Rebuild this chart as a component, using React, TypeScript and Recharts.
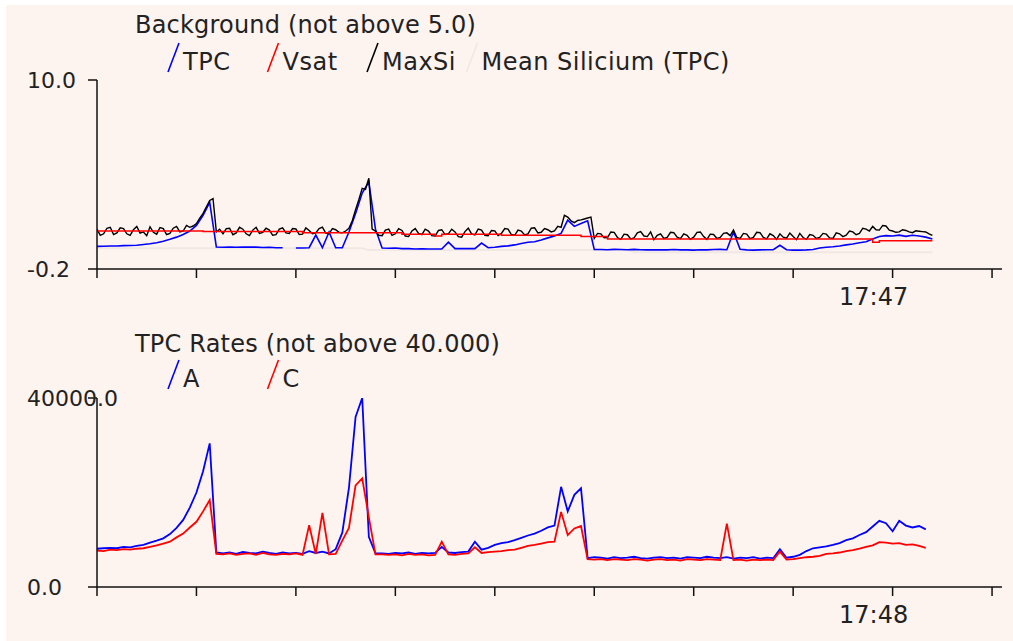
import React from "react";
import { LineChart, Line, XAxis, YAxis } from "recharts";

// ---------- tick labels / axis config ----------
const TIME_TICKS = [0, 15, 30, 45, 60, 75, 90, 105, 120, 135];
const TIME_LABEL_TICK = 120;
const TOP_TIME_LABEL = "17:47";
const BOTTOM_TIME_LABEL = "17:48";
const TOP_Y_TICKS = [-0.2, 10.0];
const BOTTOM_Y_TICKS = [0, 40000];

const TOP_TITLE = "Background (not above 5.0)";
const BOTTOM_TITLE = "TPC Rates (not above 40.000)";
const TOP_LEGEND = ["TPC", "Vsat", "MaxSi", "Mean Silicium (TPC)"];
const BOTTOM_LEGEND = ["A", "C"];

// ---------- top chart series (one sample per second) ----------
const TOP_TPC = [
  1.02, 1.03, 1.04, 1.04, 1.06, 1.07, 1.08, 1.12, 1.16, 1.22, 1.30, 1.40, 1.52, 1.66, 1.85, 2.15, 2.70, 3.40, 0.99,
  0.97, 0.99, 0.97, 0.99, 0.98, 0.98, 0.96, 0.97, 0.95, 0.95, null, 0.93, 0.93, 0.95, 1.63, 0.95, 1.80, 0.95,
  0.95, 1.80, 2.80, 3.90, 4.50, 1.95, 0.93,
  0.92, 0.93, 0.90, 0.90, 0.88, 0.89, 0.88, 0.88, 0.88, 1.25, 0.90, 0.90, 0.90, 0.90, 1.20, 0.95, 0.97,
  1.02, 1.05, 1.10, 1.18, 1.24, 1.27, 1.36, 1.48, 1.58, 1.72,
  2.44, 2.10, 2.25, 2.40,
  0.86, 0.85, 0.84, 0.86, 0.85, 0.84, 0.86, 0.84, 0.83, 0.83, 0.84, 0.83, 0.85, 0.83, 0.83, 0.82, 0.84, 0.83, 0.85, 0.86, 0.84,
  1.80,
  0.86, 0.83, 0.82, 0.83, 0.84, 0.84, 1.08, 0.84, 0.82, 0.82, 0.83, 0.85,
  0.93, 0.97, 1.00, 1.04, 1.10, 1.15, 1.22, 1.27, 1.42, 1.55, 1.60, 1.58, 1.63, 1.56, 1.62, 1.58, 1.52, 1.42,
];

// MaxSi: one sample per half second
const TOP_MAXSI = [
  1.95, 1.62, 1.70, 2.00, 2.05, 1.66, 1.75, 2.02, 1.98, 1.70, 1.62, 1.92, 2.10, 1.74,
  1.80, 1.60, 2.08, 1.78, 1.68, 2.04, 1.98, 1.66, 1.72, 2.00, 2.10, 1.80, 1.85, 2.15, 2.05, 2.12,
  2.25, 2.55, 2.80, 3.15, 3.50, 3.60, 1.80, 1.95,
  1.70, 1.98, 2.00, 1.65, 1.75, 2.05, 1.95, 1.70, 1.60, 1.90,
  2.05, 1.72, 1.78, 2.00, 1.90, 1.62, 1.65, 1.95, 2.02, 1.75,
  1.72, 1.98, 1.96, 1.66, 1.68, 2.02, 1.88, 1.70, 1.75, 1.98,
  2.06, 1.74, 1.70, 1.98, 1.92, 1.78,
  1.75, 1.85, 2.00, 2.40, 3.00, 3.55, 4.15, 4.10, 4.70, 1.95, 1.85, 1.62,
  1.60, 1.90, 1.95, 1.62, 1.70, 1.98, 1.88, 1.58, 1.55, 1.85,
  1.98, 1.72, 1.66, 1.95, 1.85, 1.60, 1.58, 1.88, 1.92, 1.66,
  1.70, 1.95, 1.80, 1.55, 1.52, 1.82, 2.00, 1.70, 1.64, 1.96,
  1.90, 1.62, 1.60, 1.88, 1.86, 1.60,
  1.72, 1.98, 1.95, 1.66, 1.62, 1.90, 1.85, 1.64, 1.70, 2.00,
  2.02, 1.75, 1.78, 1.98, 1.92, 1.80, 1.85, 2.10, 2.05, 2.70,
  2.60, 2.40, 2.30, 2.42, 2.45, 2.50, 2.55, 2.60,
  1.45, 1.72, 1.70, 1.48, 1.50, 1.80, 1.78, 1.50, 1.40, 1.68,
  1.65, 1.42, 1.48, 1.75, 1.82, 1.58, 1.55, 1.80, 1.38, 1.62,
  1.70, 1.45, 1.50, 1.78, 1.76, 1.52, 1.44, 1.70, 1.62, 1.40,
  1.52, 1.78, 1.80, 1.55, 1.40, 1.68, 1.66, 1.45, 1.50, 1.72,
  1.75, 1.60,
  1.90, 1.50,
  1.45, 1.72, 1.68, 1.44, 1.50, 1.78, 1.76, 1.50, 1.42, 1.70,
  1.60, 1.40, 1.70, 1.52, 1.46, 1.74, 1.55, 1.38, 1.72, 1.50,
  1.40, 1.66, 1.62, 1.45,
  1.50, 1.72, 1.68, 1.48, 1.45, 1.75, 1.70, 1.55, 1.62, 1.85,
  1.80, 1.65, 1.72, 2.00, 1.95, 1.85, 2.10, 1.92, 1.90, 2.15,
  2.12, 1.90, 1.85, 1.78, 1.80, 1.92, 1.88, 1.80, 1.76, 1.86,
  1.84, 1.82, 1.80, 1.70, 1.62,
];

// Vsat: step levels (second at which level starts, level)
const VSAT_T = [0, 16, 31, 46, 51, 52, 61, 73, 77, 117, 118, 126];
const VSAT_V = [1.85, 1.82, 1.75, 1.68, 1.58, 1.68, 1.62, 1.55, 1.42, 1.25, 1.33, 1.33];

// Mean Silicium (TPC): faint level line
const MEAN_T = [0, 40, 41, 80, 81, 126];
const MEAN_V = [0.92, 0.92, 0.82, 0.82, 0.7, 0.7];

// ---------- bottom chart series ----------
const RATE_A = [
  8100, 8200, 8300, 8200, 8500, 8400, 8700, 8900,
  9400, 9800, 10300, 11200, 12500, 14200, 16800, 20000, 24500, 30400, 7300,
  7100, 7300, 7000, 7400, 7200, 7100, 7500, 7200, 7000, 7300, 7100, 7200, 7000,
  7600, 7200, 7500, 7100,
  8000, 11500, 21000, 36000, 40000, 10600, 7100,
  7100, 7000, 7200, 7100, 7300, 7000, 7200, 7100, 7200, 8500, 7300, 7200, 7400, 7500, 9600, 7900, 8300, 8900,
  9300, 9500, 9900, 10400, 10900, 11300, 11900, 12600,
  13000, 21200, 16000, 19500, 20900,
  6100, 6300, 6200, 6000, 6300, 6100, 6200, 6400, 6100, 6000, 6200, 6300, 6100, 6200, 6000, 6300, 6200, 6100, 6400, 6200, 6100,
  6300,
  6000, 6200, 6100, 6300, 6000, 6200, 6100, 8000, 6200, 6400,
  6800, 7600, 8200, 8400, 8600, 8900, 9300, 9900, 10300, 11000, 11600, 12800, 14000, 13500, 11800, 14000, 13000, 12600, 12900, 12200,
];

const RATE_C = [
  7700, 7600, 7900, 7800, 8000, 7900, 8100, 8200,
  8500, 8800, 9200, 9600, 10500, 11300, 12600, 13800, 16000, 18400, 7000,
  6900, 7100, 6800, 7000, 7100, 6800, 7200, 6900, 6800, 7000, 6900, 7100, 6800,
  13100, 7000, 15700, 6900,
  7000, 9800, 12500, 21500, 23000, 14800, 6900,
  6900, 6800, 6900, 6700, 7000, 6800, 6900, 6700, 6800, 9600, 6900, 6800, 7000, 7100, 8400, 7200, 7400, 7500,
  7600, 7800, 7900, 8300, 8700, 8900, 9200, 9500,
  9600, 15900, 11000, 12400, 12900,
  5900, 5800, 5900, 5700, 5900, 5800, 5700, 5900, 5800, 5600, 5800, 5900, 5700, 5800, 5600, 5900, 5800, 5700, 5900, 5800, 5700,
  13400,
  5700, 5800, 5600, 5800, 5700, 5800, 5700, 7500, 5800, 5900,
  6100, 6300, 6400, 6600, 7000, 7100, 7300, 7600, 7800, 8100, 8500, 8800, 9500, 9400, 9200, 9300, 8900, 9000, 8700, 8300,
];

// ---------- rows ----------
const topRows = TOP_TPC.map((v, i) => ({ t: i, tpc: v }));
const maxsiRows = TOP_MAXSI.map((v, i) => ({ t: i * 0.5, maxsi: v }));
const vsatRows = VSAT_T.map((t, i) => ({ t, vsat: VSAT_V[i] }));
const meanRows = MEAN_T.map((t, i) => ({ t, mean: MEAN_V[i] }));
const bottomRows = RATE_A.map((v, i) => ({ t: i, a: v, c: RATE_C[i] }));

const FONT = "DejaVu Sans";
const TEXT = "#222";
const BG = "#fdf3ef";
const FAINT = "#f1e7e3";

const makeTimeTick = (label: string) => (props: any) => {
  const { x, y, payload } = props;
  if (payload.value !== TIME_LABEL_TICK) return <g />;
  return (
    <text x={x - 19} y={y + 25} textAnchor="middle" fontSize={24} fill={TEXT} fontFamily={FONT}>
      {label}
    </text>
  );
};

const ValueTick = (props: any) => {
  const { x, y, payload } = props;
  return (
    <text x={x - 59} y={y} dy="0.36em" textAnchor="start" fontSize={22} fill={TEXT} fontFamily={FONT}>
      {Number(payload.value).toFixed(1)}
    </text>
  );
};

const axisStyle = { stroke: "#111", strokeWidth: 1.5 };

const LegendItem = ({ x, y, color, label }: { x: number; y: number; color: string; label: string }) => (
  <g>
    <line x1={x} y1={y + 2} x2={x + 11} y2={y - 27} stroke={color} strokeWidth={1.6} />
    <text x={x + 15} y={y} fontSize={24} fill={TEXT} fontFamily={FONT} letterSpacing={0.5}>
      {label}
    </text>
  </g>
);

const TOP_COLORS = ["#0000ff", "#ff0000", "#000000", FAINT];
const BOTTOM_COLORS = ["#0000ff", "#ff0000"];

export default function App() {
  return (
    <div style={{ position: "absolute", left: 0, top: 0, width: 1013, height: 641, background: "#fff", overflow: "hidden" }}>
      <div style={{ position: "absolute", left: 6, top: 5, width: 1007, height: 636, background: BG }} />

      <div style={{ position: "absolute", left: 0, top: 300 }}>
        <LineChart width={1013} height={341} data={bottomRows} margin={{ top: 98, right: 11, bottom: 0, left: 27 }}>
          <XAxis
            type="number"
            dataKey="t"
            domain={[0, 136.5]}
            ticks={TIME_TICKS}
            height={54}
            tickSize={9}
            axisLine={axisStyle}
            tickLine={axisStyle}
            tick={makeTimeTick(BOTTOM_TIME_LABEL)}
            allowDataOverflow
          />
          <YAxis
            type="number"
            domain={[0, 40000]}
            ticks={BOTTOM_Y_TICKS}
            width={70}
            tickSize={9}
            axisLine={axisStyle}
            tickLine={axisStyle}
            tick={ValueTick}
            allowDataOverflow
          />
          <Line dataKey="a" stroke="#0000ff" strokeWidth={1.8} dot={false} isAnimationActive={false} />
          <Line dataKey="c" stroke="#ff0000" strokeWidth={1.8} dot={false} isAnimationActive={false} />
        </LineChart>
      </div>

      <div style={{ position: "absolute", left: 0, top: 0 }}>
        <LineChart width={1013} height={320} data={topRows} margin={{ top: 80, right: 11, bottom: 0, left: 27 }}>
          <XAxis
            type="number"
            dataKey="t"
            domain={[0, 136.5]}
            ticks={TIME_TICKS}
            height={51}
            tickSize={9}
            axisLine={axisStyle}
            tickLine={axisStyle}
            tick={makeTimeTick(TOP_TIME_LABEL)}
            allowDataOverflow
          />
          <YAxis
            type="number"
            domain={[-0.2, 10]}
            ticks={TOP_Y_TICKS}
            width={70}
            tickSize={9}
            axisLine={axisStyle}
            tickLine={axisStyle}
            tick={ValueTick}
            allowDataOverflow
          />
          <Line data={meanRows} dataKey="mean" stroke={FAINT} strokeWidth={2} dot={false} isAnimationActive={false} />
          <Line dataKey="tpc" stroke="#0000ff" strokeWidth={1.6} dot={false} isAnimationActive={false} />
          <Line data={maxsiRows} dataKey="maxsi" stroke="#000000" strokeWidth={1.4} dot={false} isAnimationActive={false} />
          <Line data={vsatRows} type="stepAfter" dataKey="vsat" stroke="#ff0000" strokeWidth={1.5} dot={false} isAnimationActive={false} />
        </LineChart>
      </div>

      <svg width={1013} height={641} style={{ position: "absolute", left: 0, top: 0, pointerEvents: "none" }}>
        <text x={135} y={33} fontSize={24} fill={TEXT} fontFamily={FONT} letterSpacing={0.2}>
          {TOP_TITLE}
        </text>
        {TOP_LEGEND.map((label, i) => (
          <LegendItem key={label} x={168 + i * 99.5} y={70} color={TOP_COLORS[i]} label={label} />
        ))}
        <text x={135} y={352} fontSize={24} fill={TEXT} fontFamily={FONT} letterSpacing={0.2}>
          {BOTTOM_TITLE}
        </text>
        {BOTTOM_LEGEND.map((label, i) => (
          <LegendItem key={label} x={168 + i * 99.5} y={387} color={BOTTOM_COLORS[i]} label={label} />
        ))}
      </svg>
    </div>
  );
}
